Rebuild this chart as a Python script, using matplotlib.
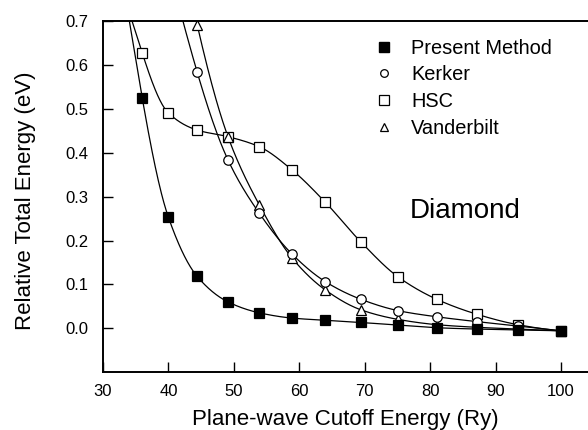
import numpy as np
import matplotlib
matplotlib.use("Agg")
import matplotlib.pyplot as plt
from matplotlib.lines import Line2D

plt.rcParams['font.family'] = ['Liberation Sans', 'DejaVu Sans']

# ---- data ----
cutoff = [36.0, 40.0, 44.4, 49.1, 53.9, 58.9, 64.0, 69.4, 75.1, 81.0, 87.1, 93.4, 100.0]
present = [0.525, 0.253, 0.118, 0.060, 0.035, 0.023, 0.018, 0.013, 0.007, 0.001, -0.002, -0.004, -0.006]
hsc = [0.628, 0.491, 0.452, 0.437, 0.414, 0.361, 0.287, 0.197, 0.117, 0.066, 0.032, 0.008, -0.006]
cutoff_kv = [44.4, 49.1, 53.9, 58.9, 64.0, 69.4, 75.1, 81.0, 87.1, 93.4, 100.0]
kerker = [0.584, 0.384, 0.262, 0.169, 0.106, 0.066, 0.040, 0.026, 0.015, 0.005, -0.006]
vanderbilt = [0.692, 0.437, 0.281, 0.160, 0.087, 0.042, 0.020, 0.008, 0.002, -0.002, -0.006]

series_names = ['Present Method', 'Kerker', 'HSC', 'Vanderbilt']
x_ticks = [30, 40, 50, 60, 70, 80, 90, 100]
y_ticks = [0.0, 0.1, 0.2, 0.3, 0.4, 0.5, 0.6, 0.7]


def pchip_slopes(x, y):
    x = np.asarray(x, float); y = np.asarray(y, float)
    h = np.diff(x); delta = np.diff(y) / h
    n = len(x)
    d = np.zeros(n)
    for k in range(1, n - 1):
        if delta[k - 1] * delta[k] <= 0:
            d[k] = 0.0
        else:
            w1 = 2 * h[k] + h[k - 1]
            w2 = h[k] + 2 * h[k - 1]
            d[k] = (w1 + w2) / (w1 / delta[k - 1] + w2 / delta[k])

    def edge(h0, h1, m0, m1):
        dd = ((2 * h0 + h1) * m0 - h0 * m1) / (h0 + h1)
        if np.sign(dd) != np.sign(m0):
            dd = 0.0
        elif np.sign(m0) != np.sign(m1) and abs(dd) > abs(3 * m0):
            dd = 3 * m0
        return dd
    d[0] = edge(h[0], h[1], delta[0], delta[1])
    d[-1] = edge(h[-1], h[-2], delta[-1], delta[-2])
    return d


def smooth_curve(x, y, extend_left=3.0, npts=60):
    x = np.asarray(x, float); y = np.asarray(y, float)
    d = pchip_slopes(x, y)
    xs, ys = [], []
    for k in range(len(x) - 1):
        h = x[k + 1] - x[k]
        t0 = -extend_left / h if k == 0 else 0.0
        t = np.linspace(t0, 1, npts)
        h00 = 2 * t**3 - 3 * t**2 + 1
        h10 = t**3 - 2 * t**2 + t
        h01 = -2 * t**3 + 3 * t**2
        h11 = t**3 - t**2
        xs.append(x[k] + t * h)
        ys.append(h00 * y[k] + h10 * h * d[k] + h01 * y[k + 1] + h11 * h * d[k + 1])
    return np.concatenate(xs), np.concatenate(ys)


fig = plt.figure(figsize=(5.88, 4.30), dpi=100)
ax = fig.add_axes([103 / 588, 1 - 372 / 430, 485 / 588, (372 - 21.4) / 430])

lw = 0.9
series = [
    (cutoff, hsc, dict(marker='s', mfc='white', mec='black', ms=7)),
    (cutoff_kv, vanderbilt, dict(marker='^', mfc='white', mec='black', ms=7)),
    (cutoff_kv, kerker, dict(marker='o', mfc='white', mec='black', ms=6.8)),
    (cutoff, present, dict(marker='s', mfc='black', mec='black', ms=7)),
]
for xv, yv, mk in series:
    cx, cy = smooth_curve(xv, yv)
    ax.plot(cx, cy, color='black', lw=lw, zorder=2)
    ax.plot(xv, yv, linestyle='none', mew=0.9, zorder=3, **mk)

ax.set_xlim(30, 104.13)
ax.set_ylim(-0.1, 0.7)
ax.set_xticks(x_ticks)
ax.set_xticklabels([str(v) for v in x_ticks])
ax.set_yticks(y_ticks)
ax.set_yticklabels([f'{v:.1f}' for v in y_ticks])
ax.tick_params(direction='in', length=7, width=1.0, labelsize=12, pad=8.5)
ax.tick_params(axis='y', pad=10.5)
for s in ['left', 'bottom', 'top']:
    ax.spines[s].set_linewidth(1.4)
ax.spines['right'].set_visible(False)

ax.set_xlabel('Plane-wave Cutoff Energy (Ry)', fontsize=16)
ax.xaxis.set_label_coords(0.5, (372 - 425) / 350.6)
ax.xaxis.label.set_va('baseline')
ax.set_ylabel('Relative Total Energy (eV)', fontsize=16)
ax.yaxis.set_label_coords((31.5 - 103) / 485, (372 - 201) / 350.6)
ax.yaxis.label.set_va('baseline')

ax.text(76.9, 0.268, 'Diamond', fontsize=20, ha='left', va='center')

handles = [
    Line2D([], [], linestyle='none', marker='s', mfc='black', mec='black', ms=7),
    Line2D([], [], linestyle='none', marker='o', mfc='white', mec='black', ms=5.5, mew=0.9),
    Line2D([], [], linestyle='none', marker='s', mfc='white', mec='black', ms=6.5, mew=0.9),
    Line2D([], [], linestyle='none', marker='^', mfc='white', mec='black', ms=6, mew=0.9),
]
leg = ax.legend(handles, series_names, loc='upper left', frameon=False,
                bbox_to_anchor=(376 / 588, 1 - 38.5 / 430), bbox_transform=fig.transFigure,
                fontsize=14.4, handlelength=0.8, handletextpad=0.95, labelspacing=0.395,
                borderpad=0, borderaxespad=0)

fig.savefig('out.png', dpi=100)
